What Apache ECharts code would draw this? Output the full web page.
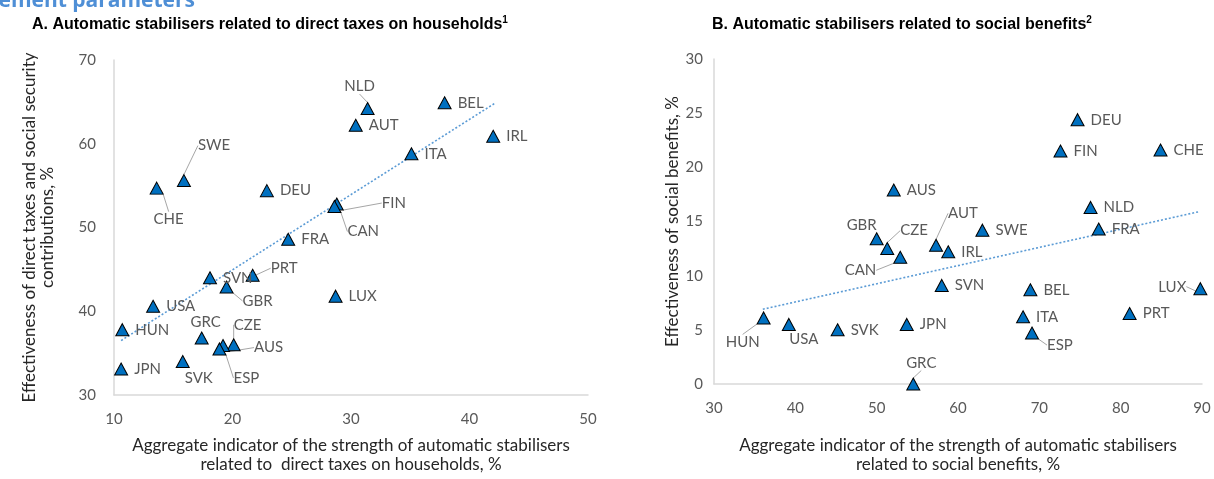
<!DOCTYPE html>
<html>
<head>
<meta charset="utf-8">
<script src="https://cdn.jsdelivr.net/npm/echarts@6/dist/echarts.min.js"></script>
<style>
  html, body { margin: 0; padding: 0; background: #fff; }
  #chart { width: 1214px; height: 479px; }
</style>
</head>
<body>
<div id="chart"></div>
<script>
// Panel A: direct taxes on households
const countriesA = ['CHE','SWE','DEU','FRA','FIN','CAN','NLD','AUT','BEL','IRL','ITA','SVN','PRT','GBR','LUX','USA','HUN','GRC','CZE','AUS','ESP','JPN','SVK'];
const taxStrength = [13.6, 15.9, 22.9, 24.7, 28.8, 28.6, 31.4, 30.4, 37.9, 42.0, 35.1, 18.1, 21.7, 19.5, 28.7, 13.3, 10.7, 17.4, 20.1, 19.2, 18.9, 10.6, 15.8];
const taxEffect   = [54.7, 55.6, 54.4, 48.6, 52.8, 52.5, 64.2, 62.2, 64.9, 60.9, 58.8, 44.0, 44.3, 42.9, 41.8, 40.6, 37.8, 36.8, 36.0, 35.9, 35.5, 33.1, 34.0];
const trendA = [[10.6, 36.5], [42.1, 64.8]];

// Panel B: social benefits
const countriesB = ['AUS','GBR','CZE','AUT','CAN','IRL','SVN','HUN','USA','SVK','JPN','GRC','DEU','FIN','CHE','NLD','FRA','SWE','BEL','ITA','ESP','PRT','LUX'];
const benefitStrength = [52.1, 50.0, 51.3, 57.3, 52.9, 58.8, 58.0, 36.1, 39.2, 45.2, 53.7, 54.5, 74.7, 72.6, 84.9, 76.3, 77.3, 63.0, 68.9, 68.0, 69.1, 81.1, 89.8];
const benefitEffect   = [17.9, 13.4, 12.5, 12.8, 11.7, 12.2, 9.1, 6.1, 5.5, 5.0, 5.5, 0.0, 24.4, 21.5, 21.6, 16.3, 14.3, 14.2, 8.7, 6.2, 4.7, 6.5, 8.8];
const trendB = [[36.0, 6.9], [89.6, 15.9]];

// Axis ticks
const ticksAx = { min: 10, max: 50, interval: 10 };
const ticksAy = { min: 30, max: 70, interval: 10 };
const ticksBx = { min: 30, max: 90, interval: 10 };
const ticksBy = { min: 0, max: 30, interval: 5 };

// Label placement relative to the marker centre: [dx, dy, align, leader line]
const labelPlaceA = {
  CHE: [12, 31, 'center', true],
  SWE: [14, -35, 'left', true],
  FIN: [45, -1, 'left', true],
  CAN: [13, 25, 'left', true],
  NLD: [-8, -22, 'center', true],
  PRT: [18, -7, 'left', true],
  GBR: [16, 14, 'left', true],
  GRC: [4, -16, 'center', false],
  CZE: [0, -20, 'left', true],
  AUS: [31, 2, 'left', true],
  ESP: [14, 29, 'left', true],
  SVK: [16, 17, 'center', false]
};
const labelPlaceB = {
  GBR: [-15, -14, 'center', false],
  CZE: [13, -18, 'left', true],
  AUT: [12, -32, 'left', true],
  CAN: [-24, 13, 'right', true],
  HUN: [-4, 24, 'right', true],
  USA: [15, 15, 'center', false],
  GRC: [8, -21, 'center', true],
  ESP: [15, 12, 'left', true],
  LUX: [-14, -2, 'right', true]
};

const FONT = 'Lato, "Open Sans", sans-serif';
const GREY = '#595959';
const AXIS_LINE = '#d9d9d9';

function points(names, xs, ys, place) {
  return names.map((n, i) => {
    const item = { name: n, value: [xs[i], ys[i]] };
    if (place[n] && place[n][3]) {
      item.labelLine = { show: true, lineStyle: { color: '#a6a6a6', width: 1 } };
    }
    return item;
  });
}

function scatterSeries(idx, names, xs, ys, place) {
  return {
    type: 'scatter',
    xAxisIndex: idx, yAxisIndex: idx,
    clip: false,
    symbol: 'triangle',
    symbolSize: [13, 12],
    itemStyle: { color: '#0070c0', borderColor: '#000', borderWidth: 1, opacity: 1 },
    label: {
      show: true, position: 'right', distance: 6,
      formatter: p => p.name,
      color: GREY, fontFamily: FONT, fontSize: 15
    },
    labelLayout: function (p) {
      const pl = place[names[p.dataIndex]];
      if (!pl) return {};
      const cx = p.rect.x + p.rect.width / 2;
      const cy = p.rect.y + p.rect.height / 2;
      return { x: cx + pl[0], y: cy + pl[1], align: pl[2], verticalAlign: 'middle' };
    },
    data: points(names, xs, ys, place),
    z: 3
  };
}

function trendSeries(idx, pts) {
  return {
    type: 'line', xAxisIndex: idx, yAxisIndex: idx,
    data: pts, symbol: 'none', silent: true,
    lineStyle: { color: '#5b9bd5', width: 1.6, type: [2, 2] },
    z: 2
  };
}

function xAxis(idx, t, name, gap) {
  return {
    type: 'value', gridIndex: idx, min: t.min, max: t.max, interval: t.interval,
    name: name, nameLocation: 'middle', nameGap: gap,
    nameTextStyle: { color: '#262626', fontFamily: FONT, fontSize: 17, lineHeight: 19 },
    axisLine: { show: true, lineStyle: { color: AXIS_LINE, width: 1.5 } },
    axisTick: { show: false },
    splitLine: { show: false },
    axisLabel: { color: GREY, fontFamily: FONT, fontSize: 15, margin: 17 }
  };
}

function yAxis(idx, t, name, gap, margin) {
  return {
    type: 'value', gridIndex: idx, min: t.min, max: t.max, interval: t.interval,
    name: name, nameLocation: 'middle', nameGap: gap,
    nameTextStyle: { color: '#262626', fontFamily: FONT, fontSize: 17, lineHeight: 18 },
    axisLine: { show: true, lineStyle: { color: AXIS_LINE, width: 1.5 } },
    axisTick: { show: false },
    splitLine: { show: false },
    axisLabel: { color: GREY, fontFamily: FONT, fontSize: 15, margin: margin }
  };
}

const titleRich = {
  t: { fontFamily: '"Liberation Sans", Arial, sans-serif', fontWeight: 'bold', fontSize: 16, color: '#000', lineHeight: 20 },
  s: { fontFamily: '"Liberation Sans", Arial, sans-serif', fontWeight: 'bold', fontSize: 10, color: '#000', verticalAlign: 'top', lineHeight: 20 }
};

const chart = echarts.init(document.getElementById('chart'), null, { renderer: 'canvas' });
chart.setOption({
  animation: false,
  backgroundColor: '#fff',
  graphic: [
    {
      type: 'text', right: 1214 - 195, top: -9,
      style: { text: 'ement parameters', fontFamily: '"Open Sans", sans-serif', fontWeight: 'bold', fontSize: 21, fill: '#4f8fd6' }
    },
    {
      type: 'text', left: 32, top: 15,
      style: { text: '{t|A. Automatic stabilisers related to direct taxes on households}{s|1}', rich: titleRich }
    },
    {
      type: 'text', left: 712, top: 15,
      style: { text: '{t|B. Automatic stabilisers related to social benefits}{s|2}', rich: titleRich }
    }
  ],
  grid: [
    { left: 114, right: 1214 - 588, top: 60, bottom: 479 - 402 },
    { left: 714, right: 1214 - 1202, top: 59, bottom: 479 - 391 }
  ],
  xAxis: [
    xAxis(0, ticksAx, 'Aggregate indicator of the strength of automatic stabilisers\nrelated to  direct taxes on households, %', 41),
    xAxis(1, ticksBx, 'Aggregate indicator of the strength of automatic stabilisers\nrelated to social benefits, %', 52)
  ],
  yAxis: [
    yAxis(0, ticksAy, 'Effectiveness of direct taxes and social security\ncontributions, %', 57, 18),
    yAxis(1, ticksBy, 'Effectiveness of social benefits, %', 28, 11)
  ],
  series: [
    trendSeries(0, trendA),
    scatterSeries(0, countriesA, taxStrength, taxEffect, labelPlaceA),
    trendSeries(1, trendB),
    scatterSeries(1, countriesB, benefitStrength, benefitEffect, labelPlaceB)
  ]
});
</script>
</body>
</html>
